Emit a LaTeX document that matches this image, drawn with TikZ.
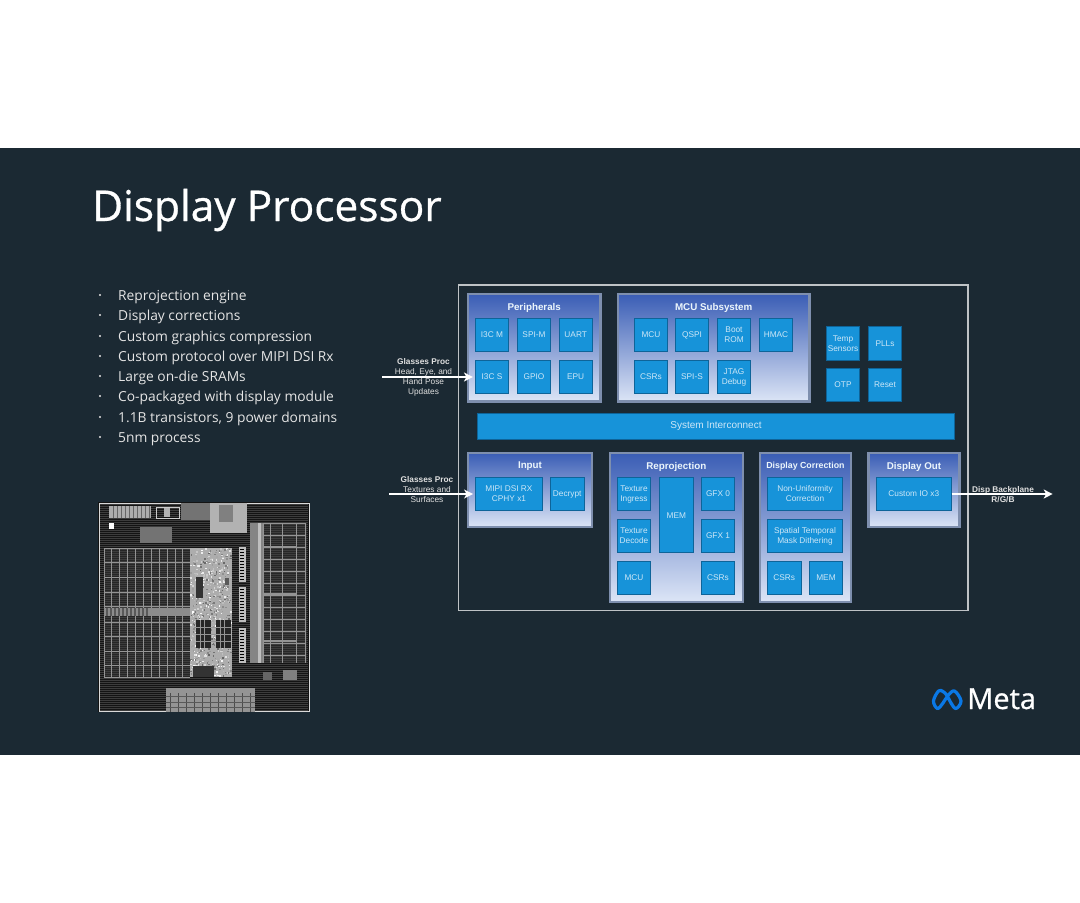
\documentclass[tikz,border=0pt]{standalone}
\usepackage{fontspec}
\usetikzlibrary{arrows.meta}
\setmainfont{Liberation Sans}
\newfontfamily\slidefont{Open Sans}
\newfontfamily\headfont{Open Sans}[FakeBold=0.7]
\definecolor{slidebg}{HTML}{1B2933}
\definecolor{blkfill}{HTML}{1793D9}
\definecolor{blkedge}{HTML}{0E6499}
\definecolor{blktext}{HTML}{CDE7F7}
\definecolor{grptop}{HTML}{3A5DB5}
\definecolor{grpbot}{HTML}{DCE5F6}
\definecolor{grpedge}{HTML}{7E8FAE}
\definecolor{metablue}{HTML}{0A78E6}
\begin{document}
\begin{tikzpicture}[
    x=1pt, y=-1pt,
    grp/.style={rectangle, draw=grpedge, line width=2.4pt, top color=grptop, bottom color=grpbot, inner sep=0pt},
    grptitle/.style={font=\bfseries\fontsize{9.8}{11}\selectfont, text=white!92!blkfill, anchor=center},
    blk/.style={rectangle, draw=blkedge, fill=blkfill, line width=0.7pt, minimum width=33.4pt, minimum height=33.4pt,
        inner sep=0pt, align=center, text=blktext, font=\fontsize{8.3}{10}\selectfont},
    ext/.style={align=center, text=white!88!black, font=\fontsize{8.3}{10}\selectfont, inner sep=0pt},
    arr/.style={-{Stealth[length=9pt, width=9pt, inset=2.5pt]}, line width=1.5pt, white},
    bullet/.style={anchor=base west, inner sep=0pt, text=white!90!black, font=\slidefont\fontsize{13.8}{16}\selectfont},
    diegrid/.style={white!58!black, line width=0.7pt},
    diehatch/.style={white!24!black, line width=0.3pt},
    diegrey/.style={fill=white!60!black}
]
    \useasboundingbox (0,0) rectangle (1080,903);
    \fill[white] (0,0) rectangle (1080,903);
    \fill[slidebg] (0,148) rectangle (1080,755);

    % Title
    \node[anchor=base west, inner sep=0pt, text=white, font=\headfont\fontsize{42.4}{50}\selectfont] (title) at (92,221) {Display Processor};

    % Bullets
    \foreach \ypos/\txt [count=\i] in {300/Reprojection engine, 320/Display corrections, 341/Custom graphics compression,
        361/Custom protocol over MIPI DSI Rx, 381/Large on-die SRAMs, 401/Co-packaged with display module,
        422/{1.1B transistors, 9 power domains}, 442/5nm process} {
        \fill[white!90!black] (100,\ypos-5) circle (1.1pt);
        \node[bullet] (item\i) at (118,\ypos) {\txt};
    }

    % Die photo
    \fill[black!92!white] (98,502) rectangle (310,712);
    \draw[white!85!black, line width=1pt] (99,503) rectangle (309,711);
    \foreach \y in {504,506,...,710} {
        \draw[diehatch] (100,\y) -- (308,\y);
    }
    % left SRAM
    \fill[black!85!white] (104,548) rectangle (190,677);
    \foreach \y in {549,551,...,676} {
        \draw[diehatch] (104,\y) -- (190,\y);
    }
    \foreach \x in {104,119,135,151,167,182,190} {
        \draw[diegrid] (\x,548) -- (\x,677);
    }
    \foreach \x in {111,127,143,159,175} {
        \draw[diegrid, line width=0.35pt] (\x,548) -- (\x,677);
    }
    \foreach \y in {548,562,577,592,606,622,636,651,665,677} {
        \draw[diegrid] (104,\y) -- (190,\y);
    }
    \fill[white!55!black] (104,608) rectangle (200,616);
    \foreach \x in {106,110,...,146} {
        \fill[white!35!black] (\x,608) rectangle ++(1.5,8);
    }
    % logic block
    \fill[white!68!black] (190,548) rectangle (232,677);
    \pgfmathsetseed{7}
    \foreach \k in {1,...,700} {
        \pgfmathsetmacro{\px}{190+rnd*40.5}
        \pgfmathsetmacro{\py}{548+rnd*127.5}
        \pgfmathsetmacro{\pg}{int(40+rnd*60)}
        \fill[white!\pg!black] (\px,\py) rectangle ++(1.5,1.5);
    }
    \fill[black!85!white] (196,620) rectangle (211,648);
    \fill[black!85!white] (216,620) rectangle (231,648);
    \foreach \x in {200,204,220,224} {
        \draw[diegrid, line width=0.4pt] (\x,620) -- (\x,648);
    }
    \foreach \y in {627,634,641} {
        \draw[diegrid, line width=0.4pt] (196,\y) -- (231,\y);
    }
    \fill[black!80!white] (196,577) rectangle (203,598);
    \fill[white!35!black] (225,578) rectangle (229,585);
    \fill[black!80!white] (193,666) rectangle (214,677);
    % middle columns
    \foreach \y in {547,587,628} {
        \fill[white!75!black] (239,\y) rectangle ++(7,35);
        \foreach \d in {2,5,...,32} {
            \draw[black, line width=0.5pt] (240,\y+\d) -- (244,\y+\d);
        }
    }
    % right SRAM
    \fill[black!85!white] (250,523) rectangle (307,663);
    \foreach \y in {524,526,...,662} {
        \draw[diehatch] (263,\y) -- (307,\y);
    }
    \fill[white!52!black] (250,523) rectangle (263,663);
    \fill[white!75!black] (258,523) rectangle (261,663);
    \foreach \x in {263,270,282,296,305} {
        \draw[diegrid] (\x,523) -- (\x,663);
    }
    \foreach \y in {546,593,640} {
        \draw[diegrid, line width=1.2pt] (263,\y+1) -- (297,\y+1);
    }
    \foreach \y in {523,535,...,663} {
        \draw[diegrid, line width=0.3pt] (263,\y) -- (305,\y);
    }
    % top blocks
    \fill[white!68!black] (109,506) rectangle (151,518);
    \foreach \x in {113,117,...,149} {
        \draw[white!40!black, line width=0.25pt] (\x,506) -- (\x,518);
    }
    \draw[white!80!black, line width=0.7pt] (156,507) rectangle (179,518);
    \fill[white!70!black] (164,508) rectangle (170,517);
    \fill[white!45!black] (181,503) rectangle (210,520);
    \fill[white!70!black] (210,503) rectangle (247,533);
    \fill[white!50!black] (219,505) rectangle (233,522);
    \fill[white!45!black] (140,527) rectangle (172,543);
    \fill[white] (109,523) rectangle (114,529);
    % bottom blocks
    \fill[white!58!black] (166,688) rectangle (255,712);
    \foreach \x in {170,178,...,250} {
        \draw[white!30!black, line width=0.3pt] (\x,693) -- (\x,712);
    }
    \foreach \y in {696,702,707} {
        \draw[white!35!black, line width=0.3pt] (166,\y) -- (255,\y);
    }
    \fill[white!50!black] (283,670) rectangle (297,680);
    \fill[white!40!black] (263,672) rectangle (272,680);

    % Outer frame
    \node[rectangle, draw=white!72!slidebg, line width=1.2pt, minimum width=509.5pt, minimum height=325.7pt, inner sep=0pt] (soc) at (713.25,447.85) {};

    % Groups
    \node[grp, minimum width=132.6pt, minimum height=107.6pt] (periph) at (534.2,347.7) {};
    \node[grp, minimum width=191.6pt, minimum height=107.6pt] (mcusub) at (713.7,347.7) {};
    \node[grp, minimum width=124.2pt, minimum height=74.2pt] (input) at (530,490) {};
    \node[grp, minimum width=132.9pt, minimum height=148.9pt] (reproj) at (676.3,527.3) {};
    \node[grp, minimum width=91.2pt, minimum height=149.2pt] (dispcorr) at (805.5,527.5) {};
    \node[grp, minimum width=91pt, minimum height=74.2pt] (dispout) at (914,490) {};
    \node[grptitle] (periphT) at (534.2,307.5) {Peripherals};
    \node[grptitle] (mcusubT) at (713.7,307.5) {MCU Subsystem};
    \node[grptitle] (inputT) at (530,466.5) {Input};
    \node[grptitle] (reprojT) at (676.3,466.5) {Reprojection};
    \node[grptitle, font=\bfseries\fontsize{8.8}{10}\selectfont] (dispcorrT) at (805.5,466.5) {Display Correction};
    \node[grptitle] (dispoutT) at (914,466.5) {Display Out};

    % Peripherals
    \node[blk] (i3cm) at (492,335) {I3C M};
    \node[blk] (spim) at (534,335) {SPI-M};
    \node[blk] (uart) at (575.7,335) {UART};
    \node[blk] (i3cs) at (492,377) {I3C S};
    \node[blk] (gpio) at (534,377) {GPIO};
    \node[blk] (epu) at (575.7,377) {EPU};

    % MCU subsystem
    \node[blk] (mcu) at (651,335) {MCU};
    \node[blk] (qspi) at (692,335) {QSPI};
    \node[blk] (bootrom) at (734,335) {Boot\\ROM};
    \node[blk] (hmac) at (776,335) {HMAC};
    \node[blk] (csrs) at (651,377) {CSRs};
    \node[blk] (spis) at (692,377) {SPI-S};
    \node[blk] (jtag) at (734,377) {JTAG\\Debug};

    % Misc
    \node[blk] (temp) at (843,343.5) {Temp\\Sensors};
    \node[blk] (plls) at (885,343.5) {PLLs};
    \node[blk] (otp) at (843,385) {OTP};
    \node[blk] (reset) at (885,385) {Reset};

    % Interconnect
    \node[blk, minimum width=477.4pt, minimum height=26.4pt, font=\fontsize{10}{12}\selectfont] (sysic) at (716,426.5) {System Interconnect};

    % Input
    \node[blk, minimum width=67.1pt] (mipi) at (509,494) {MIPI DSI RX\\CPHY x1};
    \node[blk] (decrypt) at (567.2,494) {Decrypt};

    % Reprojection
    \node[blk] (texin) at (634,494) {Texture\\Ingress};
    \node[blk] (texdec) at (634,536) {Texture\\Decode};
    \node[blk] (rmcu) at (634,578) {MCU};
    \node[blk, minimum height=75.1pt] (rmem) at (676.3,515.2) {MEM};
    \node[blk] (gfx0) at (718,494) {GFX 0};
    \node[blk] (gfx1) at (718,536) {GFX 1};
    \node[blk] (rcsrs) at (718,578) {CSRs};

    % Display correction
    \node[blk, minimum width=74.8pt] (nonunif) at (805,494) {Non-Uniformity\\Correction};
    \node[blk, minimum width=74.8pt] (spatial) at (805,536) {Spatial Temporal\\Mask Dithering};
    \node[blk] (dcsrs) at (784.3,578) {CSRs};
    \node[blk] (dmem) at (826,578) {MEM};

    % Display out
    \node[blk, minimum width=75.1pt] (customio) at (913.8,494) {Custom IO x3};

    % External labels
    \node[ext] (glass1) at (423.5,377.4) {\textbf{Glasses Proc}\\Head, Eye, and\\Hand Pose\\Updates};
    \node[ext] (glass2) at (427,489.5) {\textbf{Glasses Proc}\\Textures and\\Surfaces};
    \node[ext] (backpl) at (1003,494.5) {\textbf{Disp Backplane}\\\textbf{R/G/B}};

    % Arrows
    \coordinate (in1) at (382,377);
    \coordinate (in2) at (389,494);
    \coordinate (out1) at (1052.7,494);
    \draw[arr, shorten >=2pt] (in1) -- (i3cs.west);
    \draw[arr, shorten >=2pt] (in2) -- (mipi.west);
    \draw[arr] (customio.east) -- (out1);

    % Logo
    \draw[metablue, line width=3.2pt, line join=round] plot[smooth cycle, tension=0.6] coordinates {
        (938.5,691) (933.5,701) (937.5,708.5) (943,703) (948,695.5) (954.5,691) (961,701) (956,708.5) (951,703) (947,695.5) (943,691.5)};
    \node[anchor=base west, inner sep=0pt, text=white, font=\headfont\fontsize{29}{32}\selectfont] (meta) at (967,709) {Meta};
\end{tikzpicture}
\end{document}
